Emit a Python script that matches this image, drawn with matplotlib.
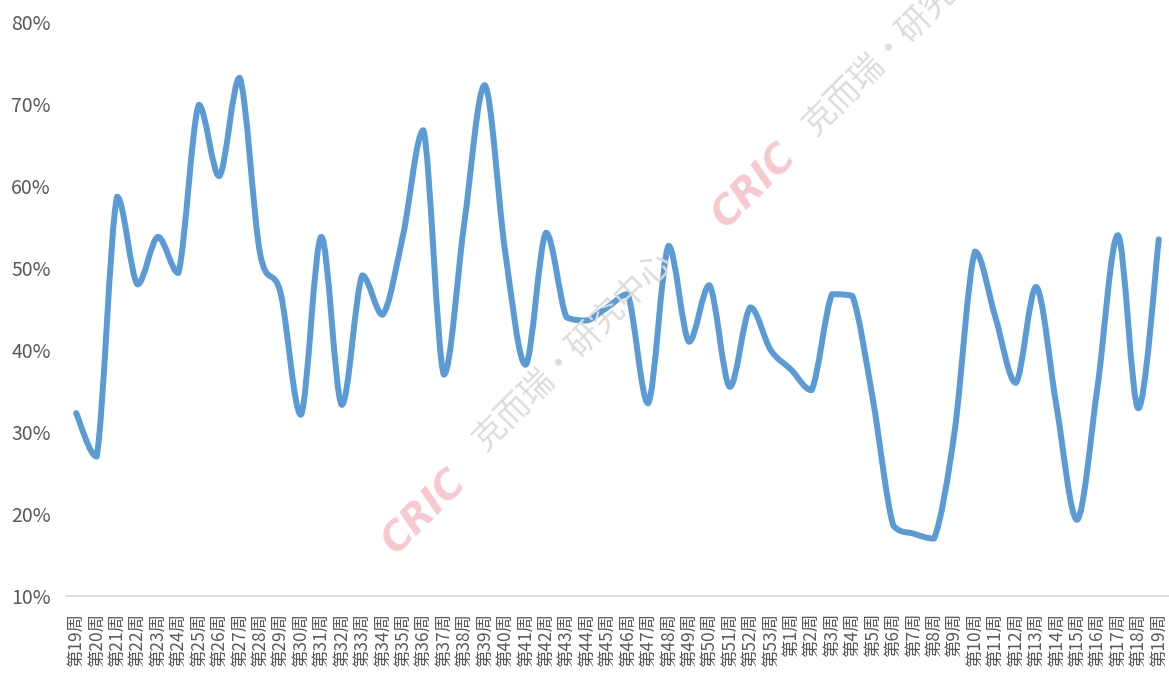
import matplotlib
matplotlib.use("Agg")
import matplotlib.pyplot as plt
from matplotlib.path import Path
from matplotlib.patches import PathPatch
from matplotlib.ticker import FuncFormatter

plt.rcParams['font.family'] = ['Noto Sans CJK SC', 'DejaVu Sans']

# Week labels (week 19 of one year through week 19 of the next)
weeks = [19, 20, 21, 22, 23, 24, 25, 26, 27, 28, 29, 30, 31, 32, 33, 34, 35,
         36, 37, 38, 39, 40, 41, 42, 43, 44, 45, 46, 47, 48, 49, 50, 51, 52, 53,
         1, 2, 3, 4, 5, 6, 7, 8, 9, 10, 11, 12, 13, 14, 15, 16, 17, 18, 19]
labels = ["第%d周" % w for w in weeks]

# Values in percent
values = [32.3, 27.0, 58.7, 48.0, 53.8, 49.4, 69.9, 61.2, 73.2, 51.8,
          47.0, 32.1, 53.8, 33.3, 49.1, 44.3, 54.0, 66.8, 37.0, 55.5,
          72.3, 52.0, 38.2, 54.3, 44.0, 43.6, 45.2, 46.8, 33.5, 52.7,
          41.0, 47.9, 35.5, 45.2, 40.0, 37.6, 35.1, 46.8, 46.6, 34.0,
          18.6, 17.6, 17.0, 30.0, 52.0, 44.0, 36.0, 47.7, 33.0, 19.3,
          35.5, 54.0, 32.9, 53.5]

LINE_COLOR = "#5B9BD5"
TEXT_COLOR = "#595959"


def smooth_path(xs, ys):
    """Smoothed line like Excel's: Bezier segments through every point,
    control points kept inside each segment's value range"""
    pts = list(zip(xs, ys))
    n = len(pts)
    verts = [pts[0]]
    codes = [Path.MOVETO]
    for i in range(n - 1):
        p0 = pts[i - 1] if i > 0 else pts[i]
        p1 = pts[i]
        p2 = pts[i + 1]
        p3 = pts[i + 2] if i + 2 < n else pts[i + 1]
        lo, hi = min(p1[1], p2[1]), max(p1[1], p2[1])
        c1y = min(max(p1[1] + (p2[1] - p0[1]) / 6, lo), hi)
        c2y = min(max(p2[1] - (p3[1] - p1[1]) / 6, lo), hi)
        c1 = (p1[0] + (p2[0] - p0[0]) / 6, c1y)
        c2 = (p2[0] - (p3[0] - p1[0]) / 6, c2y)
        verts += [c1, c2, p2]
        codes += [Path.CURVE4] * 3
    return Path(verts, codes)


fig = plt.figure(figsize=(11.69, 6.80), dpi=100)
ax = fig.add_axes([66 / 1169, 84 / 680, 1103 / 1169, 574 / 680])

x = list(range(len(values)))
patch = PathPatch(smooth_path(x, values), facecolor="none", edgecolor=LINE_COLOR,
                  lw=4.3, capstyle="round", joinstyle="round", zorder=3)
ax.add_patch(patch)

ax.set_xlim(-0.5, len(values) - 0.5)
ax.set_ylim(10, 80)
ax.set_yticks([10, 20, 30, 40, 50, 60, 70, 80])
ax.yaxis.set_major_formatter(FuncFormatter(lambda v, p: "%d%%" % v))
ax.set_xticks(x)
ax.set_xticklabels(labels, rotation=90, fontsize=12.5, color=TEXT_COLOR)
ax.tick_params(axis="x", length=0, pad=12)
ax.tick_params(axis="y", length=0, pad=11, labelsize=14, labelcolor=TEXT_COLOR)

for side in ["top", "right", "left"]:
    ax.spines[side].set_visible(False)
ax.spines["bottom"].set_color("#D9D9D9")
ax.spines["bottom"].set_linewidth(1.2)

# Watermarks
for (cx, cy), (tx, ty) in [((396, 556), (485, 452)), ((726, 230), (815, 137))]:
    fig.text(cx / 1169, 1 - cy / 680, "CRIC", rotation=45, rotation_mode="anchor",
             ha="left", va="baseline", fontsize=28, fontweight="bold",
             style="italic", color="#F7C9CF", family="DejaVu Sans", zorder=1)
    fig.text(tx / 1169, 1 - ty / 680, "克而瑞·研究中心", rotation=45,
             rotation_mode="anchor", ha="left", va="baseline", fontsize=24,
             color="#DCDCDC", zorder=1)

fig.savefig("out.png", dpi=100)
